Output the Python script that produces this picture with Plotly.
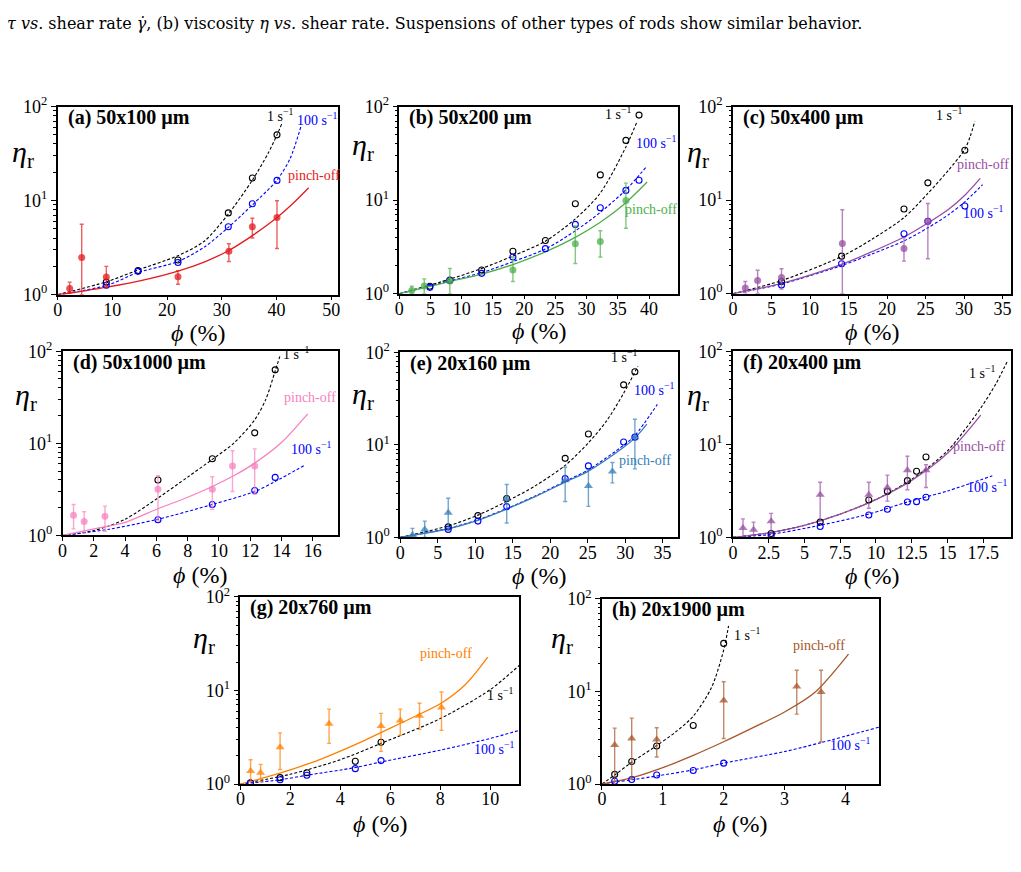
import plotly.graph_objects as go

W, H = 1021, 872
FONT = "Liberation Serif"

# ---------------- data ----------------
# (a) 50x100 um
a_phi = [8.9, 14.7, 22.0, 31.2, 35.6, 40.1]
a_eta_1 = [1.36, 1.80, 2.34, 7.4, 17.4, 50]
a_eta_100 = [1.26, 1.77, 2.2, 5.27, 9.27, 16.4]
a_phi_po = [2.2, 4.4, 8.9, 22.0, 31.3, 35.6, 40.1]
a_eta_po = [1.16, 2.48, 1.54, 1.55, 2.9, 5.27, 6.6]
a_po_hi = [1.36, 5.6, 2.0, 1.80, 3.48, 6.5, 9.95]
a_po_lo = [1.05, 1.0, 1.19, 1.29, 2.25, 4.0, 3.1]
a_fit1_phi = [0, 8.9, 14.7, 22, 26.8, 31.2, 35.6, 38.5, 40.1, 41.0]
a_fit1_eta = [1, 1.37, 1.83, 2.6, 3.7, 7.2, 16.5, 32, 50, 66]
a_fit100_phi = [0, 8.9, 14.7, 22, 26.8, 31.2, 35.6, 40.1, 42.5, 44.5]
a_fit100_eta = [1, 1.25, 1.72, 2.25, 3.2, 5.2, 9.0, 16.5, 28, 62]
a_fitpo_phi = [0, 5, 9, 15, 22, 27, 31.3, 36, 40.1, 43, 45.9]
a_fitpo_eta = [1, 1.10, 1.2, 1.4, 1.78, 2.25, 2.95, 4.4, 6.6, 9.3, 13.7]

# (b) 50x200 um
b_phi = [4.9, 8.1, 13.2, 18.2, 23.4, 28.2, 32.2, 36.3, 38.4]
b_eta_1 = [1.2, 1.40, 1.79, 2.84, 3.70, 9.15, 18.6, 43.5, 81]
b_eta_100 = [1.17, 1.38, 1.65, 2.47, 3.03, 5.5, 8.3, 12.7, 16.3]
b_phi_po = [2.0, 4.0, 8.1, 18.2, 28.2, 32.2, 36.3]
b_eta_po = [1.08, 1.21, 1.37, 1.79, 3.41, 3.61, 9.9]
b_po_hi = [1.2, 1.44, 1.86, 2.47, 5.3, 4.7, 15.2]
b_po_lo = [1.0, 1.0, 1.0, 1.35, 2.1, 2.47, 5.0]
b_fit1_phi = [0, 8.1, 13.2, 18.2, 23.4, 28.2, 32.2, 36.3, 38.0]
b_fit1_eta = [1, 1.43, 1.86, 2.53, 3.64, 6.3, 11.9, 37, 67]
b_fit100_phi = [0, 8.1, 13.2, 18.2, 23.4, 28.2, 32.2, 36.3, 39.6]
b_fit100_eta = [1, 1.37, 1.68, 2.2, 3.0, 4.7, 7.4, 12.9, 22.8]
b_fitpo_phi = [0, 8.1, 13.2, 18.2, 23.4, 28.2, 32.2, 36.3, 39.7]
b_fitpo_eta = [1, 1.35, 1.62, 2.05, 2.8, 4.0, 5.8, 9.4, 15.6]

# (c) 50x400 um
c_phi = [6.3, 14.1, 22.2, 25.3, 30.1]
c_eta_1 = [1.35, 2.52, 8.05, 15.3, 34.1]
c_eta_100 = [1.24, 2.09, 4.38, 5.94, 8.65]
c_phi_po = [1.6, 3.2, 6.3, 14.2, 22.2, 25.3]
c_eta_po = [1.15, 1.38, 1.49, 3.44, 3.05, 5.94]
c_po_hi = [1.35, 1.78, 1.85, 7.9, 3.98, 9.2]
c_po_lo = [1.02, 1.0, 1.12, 1.0, 2.23, 2.36]
c_fit1_phi = [0, 6.3, 14.1, 18, 22.2, 25.3, 28, 30.1, 30.8, 31.4]
c_fit1_eta = [1, 1.38, 2.5, 3.8, 6.5, 11.8, 21, 35, 48, 70]
c_fit100_phi = [0, 6.3, 14.1, 18, 22.2, 25.3, 28, 30.1, 32.4]
c_fit100_eta = [1, 1.27, 2.0, 2.65, 3.67, 5.06, 7.0, 9.6, 14.6]
c_fitpo_phi = [0, 6.3, 14.1, 18, 22.2, 25.3, 28, 30.1, 32.1]
c_fitpo_eta = [1, 1.29, 2.06, 2.8, 4.04, 5.7, 8.0, 11.3, 17.1]

# (d) 50x1000 um
d_phi = [6.1, 9.58, 12.29, 13.6]
d_eta_1 = [4.0, 6.79, 13.0, 62.8]
d_eta_100 = [1.48, 2.17, 3.08, 4.27]
d_phi_po = [0.7, 1.38, 2.71, 6.1, 9.58, 10.87, 12.29]
d_eta_po = [1.66, 1.42, 1.62, 3.18, 3.18, 5.68, 5.68]
d_po_hi = [2.17, 1.81, 2.08, 4.44, 4.34, 8.3, 8.7]
d_po_lo = [1.18, 1.06, 1.11, 1.44, 1.92, 3.0, 2.8]
d_fit1_phi = [0, 2, 4, 6.1, 8, 9.58, 11, 12.29, 13.0, 13.6, 13.9]
d_fit1_eta = [1, 1.13, 1.5, 2.55, 4.3, 6.7, 10.2, 18, 30, 61, 88]
d_fit100_phi = [0, 3, 6.1, 9.58, 12.29, 13.6, 15.47]
d_fit100_eta = [1, 1.17, 1.5, 2.17, 3.0, 3.85, 5.77]
d_fitpo_phi = [0, 2, 4, 6.1, 8, 9.58, 11, 12.29, 14, 15.68]
d_fitpo_eta = [1, 1.18, 1.39, 1.95, 2.6, 3.4, 4.5, 6.1, 10.2, 20.9]

# (e) 20x160 um
e_phi = [6.4, 10.36, 14.2, 22.0, 25.1, 29.8, 31.3]
e_eta_1 = [1.30, 1.72, 2.63, 7.14, 13.1, 44.4, 61.4]
e_eta_100 = [1.22, 1.50, 2.15, 4.31, 5.92, 10.7, 12.1]
e_phi_po = [1.63, 3.26, 6.4, 14.2, 22.0, 25.1, 28.3, 31.3]
e_eta_po = [1.06, 1.22, 1.84, 2.59, 4.14, 3.58, 5.16, 12.1]
e_po_hi = [1.25, 1.50, 2.65, 3.73, 5.73, 5.37, 6.43, 18.9]
e_po_lo = [1.0, 1.0, 1.2, 1.43, 2.44, 2.16, 3.88, 5.5]
e_fit1_phi = [0, 6.4, 10.36, 14.2, 18, 22, 25.1, 27.5, 29.8, 31.7]
e_fit1_eta = [1, 1.33, 1.74, 2.45, 3.6, 6.0, 10.5, 18, 36, 70.5]
e_fit100_phi = [0, 6.4, 10.36, 14.2, 18, 22, 25.1, 29.8, 31.3, 34.3]
e_fit100_eta = [1, 1.25, 1.55, 2.05, 2.8, 4.04, 5.37, 9.9, 12.6, 27.3]
e_fitpo_phi = [0, 6.4, 10.36, 14.2, 18, 22, 25.1, 29.8, 31.3, 32.9]
e_fitpo_eta = [1, 1.24, 1.53, 2.02, 2.75, 3.95, 5.2, 9.4, 11.8, 16.7]

# (f) 20x400 um
f_phi = [2.67, 6.1, 9.5, 10.8, 12.2, 12.84, 13.5]
f_eta_1 = [1.10, 1.46, 2.52, 3.12, 4.07, 5.14, 7.31]
f_eta_100 = [1.04, 1.31, 1.74, 2.01, 2.40, 2.42, 2.70]
f_phi_po = [0.70, 1.44, 2.67, 6.1, 9.5, 10.8, 12.2, 13.5]
f_eta_po = [1.26, 1.21, 1.49, 2.88, 2.88, 3.44, 5.26, 5.26]
f_po_hi = [1.58, 1.46, 1.81, 3.91, 3.91, 4.67, 7.43, 6.03]
f_po_lo = [1.02, 1.06, 1.1, 1.52, 2.06, 2.45, 3.25, 3.44]
f_fit1_phi = [0, 2.5, 5, 7.5, 10, 12.5, 15, 17.3, 18.4, 19.2]
f_fit1_eta = [1, 1.12, 1.35, 1.78, 2.56, 4.2, 8.5, 24.2, 45, 78.6]
f_fit100_phi = [0, 2.67, 6.1, 9.5, 12.2, 15, 18.14]
f_fit100_eta = [1, 1.08, 1.35, 1.78, 2.4, 3.15, 4.59]
f_fitpo_phi = [0, 2.5, 5, 7.5, 10, 12.5, 15, 17.33]
f_fitpo_eta = [1, 1.12, 1.35, 1.78, 2.55, 4.1, 8.0, 20.6]

# (g) 20x760 um
g_phi = [0.4, 1.59, 2.66, 4.6, 5.63]
g_eta_1 = [1.03, 1.17, 1.32, 1.75, 2.79]
g_eta_100 = [1.02, 1.11, 1.24, 1.46, 1.78]
g_phi_po = [0.41, 0.81, 1.59, 3.55, 5.63, 6.40, 7.17, 8.05]
g_eta_po = [1.38, 1.32, 2.47, 4.4, 4.16, 4.77, 5.38, 6.57]
g_po_hi = [1.82, 1.62, 3.52, 6.31, 5.69, 6.31, 7.29, 9.64]
g_po_lo = [1.06, 1.06, 1.43, 2.72, 2.23, 3.32, 3.84, 3.75]
g_fit1_phi = [0, 2, 4, 5.63, 8, 10, 11.17]
g_fit1_eta = [1, 1.27, 1.82, 2.72, 5.0, 10.2, 18.6]
g_fit100_phi = [0, 1.59, 2.66, 4.6, 5.63, 8, 10, 11.17]
g_fit100_eta = [1, 1.11, 1.24, 1.5, 1.72, 2.3, 3.07, 3.75]
g_fitpo_phi = [0, 1, 2, 3, 4, 5, 6, 7, 8, 9, 9.9]
g_fitpo_eta = [1, 1.18, 1.42, 1.75, 2.25, 2.95, 3.95, 5.3, 7.2, 11.5, 22.7]

# (h) 20x1900 um
h_phi = [0.21, 0.49, 0.90, 1.5, 2.0]
h_eta_1 = [1.27, 1.75, 2.57, 4.28, 33]
h_eta_100 = [1.07, 1.12, 1.25, 1.40, 1.68]
h_phi_po = [0.21, 0.49, 0.9, 2.0, 3.2, 3.6]
h_eta_po = [2.64, 3.1, 3.03, 7.97, 11.3, 9.84]
h_po_hi = [4.01, 5.15, 4.05, 12.7, 16.9, 16.9]
h_po_lo = [1.07, 1.13, 1.96, 3.1, 5.68, 2.86]
h_fit1_phi = [0, 0.21, 0.49, 0.9, 1.2, 1.5, 1.8, 2.0, 2.08]
h_fit1_eta = [1, 1.25, 1.72, 2.6, 3.6, 5.4, 11, 28, 51]
h_fit100_phi = [0, 0.21, 0.49, 0.9, 1.5, 2, 3, 3.6, 4.55]
h_fit100_eta = [1, 1.05, 1.11, 1.22, 1.42, 1.68, 2.24, 2.8, 4.11]
h_fitpo_phi = [0, 0.5, 1, 1.5, 2, 2.5, 3, 3.5, 4.05]
h_fitpo_eta = [1, 1.17, 1.5, 2.04, 2.86, 4.11, 6.0, 9.8, 25.3]

titles = ["(a) 50x100 µm", "(b) 50x200 µm", "(c) 50x400 µm", "(d) 50x1000 µm",
          "(e) 20x160 µm", "(f) 20x400 µm", "(g) 20x760 µm", "(h) 20x1900 µm"]
x_max = [51.2, 44.7, 36.1, 17.6, 37.1, 19.45, 11.17, 4.55]
x_dtick = [10, 5, 5, 2, 5, 2.5, 2, 1]
po_colors = ["#e41a1c", "#4daf4a", "#984ea3", "#f781bf", "#377eb8", "#984ea3", "#ff7f00", "#a65628"]
po_symbols = ["circle"] * 4 + ["triangle-up"] * 4
y_ticks = [1, 10, 100]
y_ticktext = ["10<sup>0</sup>", "10<sup>1</sup>", "10<sup>2</sup>"]

# ---------------- layout helpers ----------------
# plot boxes in pixels: left, top, right, bottom
boxes = [(53, 97, 335, 290), (397, 97, 678, 289), (733, 97, 1013, 289),
         (58, 348, 335, 537), (398, 349, 678, 539), (733, 348, 1013, 539),
         (237, 600, 518, 792), (601, 602, 880, 792)]
eta_shift = [(-48, 47), (-49, 40), (-48, 47), (-50, 46), (-50, 44), (-48, 46), (-49, 43), (-53, 41)]
xtitle_shift = [38, 37, 38, 40, 39, 39, 40, 40]
# label positions (phi, log10 eta): 1 s^-1, 100 s^-1, pinch-off
lab_pos = [
    [(40.7, 1.855), (47.4, 1.81), (46.8, 1.226)],
    [(35.0, 1.874), (41.1, 1.568), (40.3, 0.856)],
    [(28.1, 1.871), (32.5, 0.815), (32.4, 1.338)],
    [(14.9, 1.93), (15.9, 0.896), (15.8, 1.451)],
    [(29.9, 1.905), (33.8, 1.552), (32.6, 0.783)],
    [(17.4, 1.721), (17.8, 0.495), (17.2, 0.93)],
    [(10.41, 0.904), (10.17, 0.33), (8.25, 1.357)],
    [(2.39, 1.561), (4.07, 0.379), (3.57, 1.456)],
]

panels = []
for k in "abcdefgh":
    g = globals()
    panels.append(dict(
        phi=g[k + "_phi"], eta1=g[k + "_eta_1"], eta100=g[k + "_eta_100"],
        phipo=g[k + "_phi_po"], etapo=g[k + "_eta_po"], hi=g[k + "_po_hi"], lo=g[k + "_po_lo"],
        f1x=g[k + "_fit1_phi"], f1y=g[k + "_fit1_eta"],
        f100x=g[k + "_fit100_phi"], f100y=g[k + "_fit100_eta"],
        fpx=g[k + "_fitpo_phi"], fpy=g[k + "_fitpo_eta"],
    ))


def rgba(hexc, a):
    h = hexc.lstrip("#")
    return "rgba(%d,%d,%d,%.2f)" % (int(h[0:2], 16), int(h[2:4], 16), int(h[4:6], 16), a)


fig = go.Figure()
annotations = []
layout = {}
for i, p in enumerate(panels):
    n = i + 1
    sfx = "" if n == 1 else str(n)
    xa, ya = "x" + sfx, "y" + sfx
    col = po_colors[i]
    common = dict(xaxis=xa, yaxis=ya, showlegend=False, hoverinfo="skip")
    fig.add_trace(go.Scatter(x=p["f1x"], y=p["f1y"], mode="lines",
                             line=dict(color="black", width=1.1, dash="3px,2px", shape="spline", smoothing=0.8), **common))
    fig.add_trace(go.Scatter(x=p["f100x"], y=p["f100y"], mode="lines",
                             line=dict(color="blue", width=1.1, dash="3px,2px", shape="spline", smoothing=0.8), **common))
    fig.add_trace(go.Scatter(x=p["fpx"], y=p["fpy"], mode="lines",
                             line=dict(color=col, width=1.3, shape="spline", smoothing=0.8), **common))
    fig.add_trace(go.Scatter(x=p["phi"], y=p["eta1"], mode="markers",
                             marker=dict(symbol="circle-open", size=6, color="black", line=dict(width=1.1)), **common))
    fig.add_trace(go.Scatter(x=p["phi"], y=p["eta100"], mode="markers",
                             marker=dict(symbol="circle-open", size=6, color="blue", line=dict(width=1.1)), **common))
    up = [h - y for h, y in zip(p["hi"], p["etapo"])]
    dn = [y - l for y, l in zip(p["etapo"], p["lo"])]
    fig.add_trace(go.Scatter(x=p["phipo"], y=p["etapo"], mode="markers",
                             marker=dict(symbol=po_symbols[i], size=7 if i < 4 else 8, color=rgba(col, 0.75)),
                             error_y=dict(type="data", symmetric=False, array=up, arrayminus=dn,
                                          color=rgba(col, 0.7), thickness=1.4, width=2),
                             **common))

    l, t, r, b = boxes[i]
    axis_common = dict(showline=True, linecolor="black", linewidth=1.5, mirror=True,
                       showgrid=False, zeroline=False, ticks="outside", tickcolor="black",
                       tickfont=dict(family=FONT, size=18, color="black"))
    layout["xaxis" + sfx] = dict(domain=[l / W, r / W], anchor=ya, range=[0, x_max[i]],
                                 dtick=x_dtick[i], tick0=0, ticklen=4, ticklabelstandoff=-6,
                                 **axis_common)
    layout["yaxis" + sfx] = dict(domain=[1 - b / H, 1 - t / H], anchor=xa, type="log", range=[0, 2],
                                 tickvals=y_ticks, ticktext=y_ticktext, ticklen=5,
                                 minor=dict(ticks="outside", ticklen=2.5, tickcolor="black", dtick="D1"),
                                 **axis_common)
    dom_x, dom_y = xa + " domain", ya + " domain"
    annotations.append(dict(xref=dom_x, yref=dom_y, x=0, y=1, xanchor="left", yanchor="middle",
                            xshift=8, yshift=-11, showarrow=False,
                            text="<b>" + titles[i] + "</b>", font=dict(family=FONT, size=20, color="black")))
    annotations.append(dict(xref=dom_x, yref=dom_y, x=0, y=1, xanchor="left", yanchor="middle",
                            xshift=eta_shift[i][0], yshift=-eta_shift[i][1], showarrow=False,
                            text="<i>η</i><sub>r</sub>", font=dict(family=FONT, size=30, color="black")))
    annotations.append(dict(xref=dom_x, yref=dom_y, x=0.5, y=0, xanchor="center", yanchor="middle",
                            yshift=-xtitle_shift[i], showarrow=False,
                            text="<i>ϕ</i> (%)", font=dict(family=FONT, size=24, color="black")))
    texts = ["1 s<sup>−1</sup>", "100 s<sup>−1</sup>", "pinch-off"]
    cols = ["black", "blue", col]
    for (lx, ly), tx, c in zip(lab_pos[i], texts, cols):
        annotations.append(dict(xref=xa, yref=ya, x=lx, y=ly, xanchor="center", yanchor="middle",
                                yshift=5 if "sup" in tx else 4, showarrow=False, text=tx,
                                font=dict(family=FONT, size=14, color=c)))

annotations.append(dict(xref="paper", yref="paper", x=0, y=1 - 12 / H, xanchor="left", yanchor="middle",
                        showarrow=False,
                        text="<i>τ vs.</i> shear rate <i>γ̇</i>, (b) viscosity <i>η vs.</i> shear rate. "
                             "Suspensions of other types of rods show similar behavior.",
                        font=dict(family="DejaVu Serif", size=16, color="black")))

fig.update_layout(width=W, height=H, autosize=False, margin=dict(l=0, r=0, t=0, b=0),
                  paper_bgcolor="white", plot_bgcolor="white", annotations=annotations, **layout)
fig.write_html("out.html")
